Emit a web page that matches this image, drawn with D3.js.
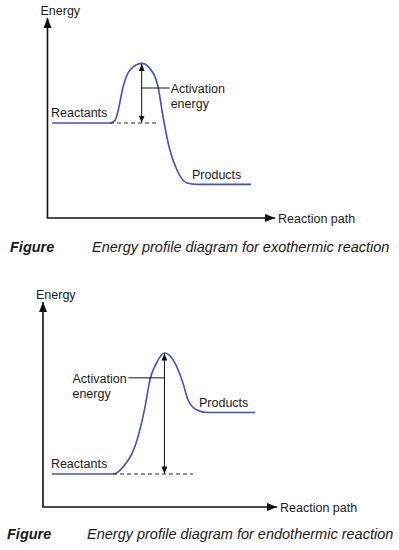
<!DOCTYPE html>
<html>
<head>
<meta charset="utf-8">
<script src="https://cdn.jsdelivr.net/npm/d3@7"></script>
<style>
  body { margin: 0; background: #fff; }
  text { font-family: "Liberation Sans", Arial, sans-serif; fill: #1a1a1a; }
</style>
</head>
<body>
<div id="container"></div>
<script>
let w = 399;
let h = 550;

// reaction path (0-100) and energy (0-100)
let exoPath   = [2, 27.5, 29.7, 31.1, 33.2, 36.3, 41.4, 46.4, 48.6, 50.8, 53.8, 56.9, 61.3, 65.7, 89.5];
let exoEnergy = [47.5, 47.5, 48.8, 54, 65.5, 74, 77.3, 72.5, 65.5, 50.5, 34, 24, 17.5, 16.8, 16.8];

let endoPath   = [3.8, 29.9, 34.2, 40.2, 43.6, 45.7, 48.7, 52.1, 56.4, 59.8, 62, 65.8, 70.1, 90.6];
let endoEnergy = [16.1, 16.1, 19.5, 32.7, 48.8, 62, 70.7, 75.1, 70.2, 60.5, 52.2, 47.3, 46.1, 46.1];

// peak, reactant level, dashed line span, leader height
let exoMarks  = { peakX: 41.4, peak: 77.3, react: 47.5, dashFrom: 27.5, dashTo: 48.1, leadY: 65 };
let endoMarks = { peakX: 51.9, peak: 75.1, react: 16.1, dashFrom: 29.9, dashTo: 64.1, leadY: 63 };

let captions = ["Energy profile diagram for exothermic reaction",
                "Energy profile diagram for endothermic reaction"];

let viz = d3.select("#container").append("svg")
    .attr("width", w)
    .attr("height", h);

let defs = viz.append("defs");
defs.append("marker").attr("id", "axisHead")
    .attr("viewBox", "0 0 10 8").attr("refX", 10).attr("refY", 4)
    .attr("markerWidth", 10).attr("markerHeight", 8)
    .attr("markerUnits", "userSpaceOnUse").attr("orient", "auto")
  .append("path").attr("d", "M0,0L10,4L0,8Z").attr("fill", "#111");
defs.append("marker").attr("id", "smallHead")
    .attr("viewBox", "0 0 7 6").attr("refX", 7).attr("refY", 3)
    .attr("markerWidth", 7).attr("markerHeight", 6)
    .attr("markerUnits", "userSpaceOnUse").attr("orient", "auto-start-reverse")
  .append("path").attr("d", "M0,0L7,3L0,6Z").attr("fill", "#111");

function drawChart(cfg) {
  let x = d3.scaleLinear().domain([0, 100]).range([cfg.left, cfg.right]);
  let y = d3.scaleLinear().domain([0, 100]).range([cfg.bottom, cfg.top]);
  let g = viz.append("g");

  // axes
  g.append("line")
    .attr("x1", x(0)).attr("y1", y(0)).attr("x2", x(0)).attr("y2", y(100))
    .attr("stroke", "#111").attr("stroke-width", 1.6).attr("marker-end", "url(#axisHead)");
  g.append("line")
    .attr("x1", x(0) - 0.8).attr("y1", y(0)).attr("x2", x(100)).attr("y2", y(0))
    .attr("stroke", "#111").attr("stroke-width", 1.6).attr("marker-end", "url(#axisHead)");

  g.append("text").attr("x", x(0) - 7).attr("y", y(100) - 3)
    .attr("font-size", 12.5).text("Energy");
  g.append("text").attr("x", x(100) + 3).attr("y", y(0) + 4.5)
    .attr("font-size", 12.5).text("Reaction path");

  // energy curve
  let pts = cfg.path.map(function (p, i) { return [p, cfg.energy[i]]; });
  let line = d3.line()
    .x(function (d) { return x(d[0]); })
    .y(function (d) { return y(d[1]); })
    .curve(d3.curveMonotoneX);
  g.append("path").datum(pts).attr("d", line)
    .attr("fill", "none").attr("stroke", "#3d52c4").attr("stroke-width", 1.6);

  let m = cfg.marks;
  // dashed reactant level
  g.append("line")
    .attr("x1", x(m.dashFrom)).attr("x2", x(m.dashTo))
    .attr("y1", y(m.react)).attr("y2", y(m.react))
    .attr("stroke", "#222").attr("stroke-width", 1).attr("stroke-dasharray", "4,3");
  // activation energy arrow
  g.append("line")
    .attr("x1", x(m.peakX)).attr("x2", x(m.peakX))
    .attr("y1", y(m.peak) + 0.5).attr("y2", y(m.react) - 0.5)
    .attr("stroke", "#111").attr("stroke-width", 1)
    .attr("marker-start", "url(#smallHead)").attr("marker-end", "url(#smallHead)");
  // leader line + label
  let lx2 = cfg.labelSide === "right" ? x(m.peakX) + 28 : x(m.peakX) - 36;
  g.append("line")
    .attr("x1", x(m.peakX)).attr("x2", lx2)
    .attr("y1", y(m.leadY)).attr("y2", y(m.leadY))
    .attr("stroke", "#111").attr("stroke-width", 1);
  let lab = g.append("text").attr("font-size", 12.5)
    .attr("x", cfg.labelSide === "right" ? lx2 + 1 : lx2 - 56)
    .attr("y", y(m.leadY) + 5);
  lab.append("tspan").text("Activation");
  lab.append("tspan").attr("x", cfg.labelSide === "right" ? lx2 + 1 : lx2 - 56)
    .attr("dy", 15).text("energy");

  g.append("text").attr("x", x(cfg.path[0]) - 1).attr("y", y(cfg.energy[0]) - 6)
    .attr("font-size", 12.5).text("Reactants");
  let last = cfg.path.length - 1;
  g.append("text").attr("x", cfg.prodX).attr("y", y(cfg.energy[last]) - 5)
    .attr("font-size", 12.5).text("Products");

  // caption
  g.append("text").attr("x", cfg.figX).attr("y", cfg.capY)
    .attr("font-size", 14.5).attr("font-weight", "bold").attr("font-style", "italic")
    .text("Figure");
  g.append("text").attr("x", cfg.capX).attr("y", cfg.capY)
    .attr("font-size", 14.5).attr("font-style", "italic")
    .text(cfg.caption);
}

drawChart({ left: 47.5, right: 275, top: 18, bottom: 218,
  path: exoPath, energy: exoEnergy, marks: exoMarks, labelSide: "right",
  prodX: 192, figX: 10, capX: 92, capY: 252, caption: captions[0] });

drawChart({ left: 43, right: 277, top: 302, bottom: 507,
  path: endoPath, energy: endoEnergy, marks: endoMarks, labelSide: "left",
  prodX: 199, figX: 7, capX: 87, capY: 539, caption: captions[1] });
</script>
</body>
</html>
